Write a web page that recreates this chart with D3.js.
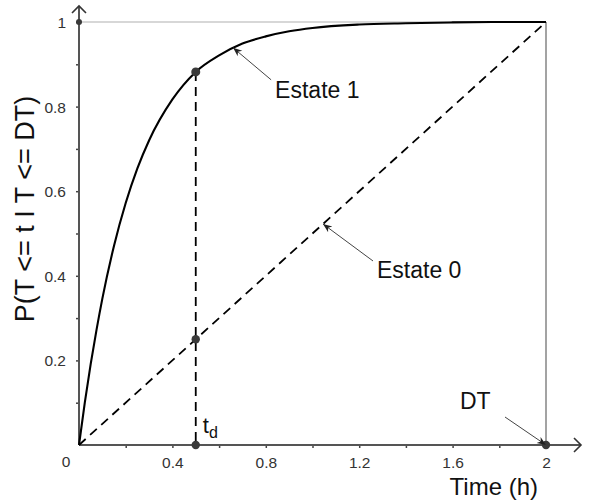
<!DOCTYPE html>
<html>
<head>
<meta charset="utf-8">
<script src="https://cdn.jsdelivr.net/npm/d3@7"></script>
<style>
  html, body { margin: 0; padding: 0; background: #fff; }
  svg { display: block; font-family: "Liberation Sans", Arial, sans-serif; }
</style>
</head>
<body>
<svg id="chart" width="589" height="504"></svg>
<script>
// Time axis (hours) and cumulative probability readings
const timeH = [0, 0.025, 0.05, 0.075, 0.1, 0.15, 0.2, 0.25, 0.3, 0.4, 0.5, 0.6, 0.7, 0.8, 0.9, 1.0, 1.2, 1.4, 1.6, 1.8, 2.0];
const estate1 = [0, 0.101, 0.191, 0.272, 0.346, 0.471, 0.572, 0.654, 0.72, 0.817, 0.882, 0.921, 0.949, 0.966, 0.978, 0.986, 0.994, 0.997, 0.999, 1.0, 1.0];
const estate0Time = [0, 2];
const estate0 = [0, 1];

// Marked points
const td = 0.5;
const tdEstate1 = 0.882;
const tdEstate0 = 0.25;
const DT = 2;

// Ticks
const xMinorTicks = [0.2, 0.4, 0.6, 0.8, 1.0, 1.2, 1.4, 1.6, 1.8, 2.0];
const xTickLabels = [0.4, 0.8, 1.2, 1.6, 2];
const yMinorTicks = [0.1, 0.2, 0.3, 0.4, 0.5, 0.6, 0.7, 0.8, 0.9, 1.0];
const yTickLabels = [0.2, 0.4, 0.6, 0.8, 1];

const svg = d3.select("#chart");
const x = d3.scaleLinear().domain([0, 2]).range([79, 546]);
const y = d3.scaleLinear().domain([0, 1]).range([445, 22]);

const ink = "#000";
const axisCol = "#555";

// Frame lines at P = 1 and t = DT
svg.append("line")
  .attr("x1", x(0)).attr("x2", x(DT)).attr("y1", y(1)).attr("y2", y(1))
  .attr("stroke", "#b0b0b0").attr("stroke-width", 1.2);
svg.append("line")
  .attr("x1", x(DT)).attr("x2", x(DT)).attr("y1", y(1)).attr("y2", y(0))
  .attr("stroke", "#666").attr("stroke-width", 1.2);

// Axes (ticks via d3 axis generators)
const fmt = d => xTickLabels.includes(+d.toFixed(1)) ? d3.format("~g")(d) : "";
const gx = svg.append("g").attr("transform", `translate(0,${y(0)})`)
  .call(d3.axisBottom(x).tickValues(xMinorTicks).tickSize(3).tickPadding(8).tickFormat(fmt));
const gy = svg.append("g").attr("transform", `translate(${x(0)},0)`)
  .call(d3.axisLeft(y).tickValues(yMinorTicks).tickSize(3).tickPadding(10)
    .tickFormat(d => yTickLabels.includes(+d.toFixed(1)) ? d3.format("~g")(d) : ""));
[gx, gy].forEach(g => {
  g.select(".domain").remove();
  g.selectAll(".tick line").attr("stroke", "#444").attr("stroke-width", 1.5);
  g.selectAll(".tick text").attr("fill", "#333").attr("font-size", 15.5)
    .attr("font-family", "Liberation Sans, Arial, sans-serif");
});
gy.selectAll(".tick text").attr("dy", "0.36em");
gx.selectAll(".tick text").attr("dy", "0.8em");

// Origin label
svg.append("text").attr("x", x(0) - 13).attr("y", y(0) + 22)
  .attr("text-anchor", "middle").attr("font-size", 15.5).attr("fill", "#333").text("0");

// Axis lines with open arrowheads
svg.append("line").attr("x1", x(0)).attr("x2", 581).attr("y1", y(0)).attr("y2", y(0))
  .attr("stroke", axisCol).attr("stroke-width", 2);
svg.append("path").attr("d", `M${574},${y(0) - 7} L${581},${y(0)} L${574},${y(0) + 7}`)
  .attr("fill", "none").attr("stroke", "#333").attr("stroke-width", 1.6);
svg.append("line").attr("x1", x(0)).attr("x2", x(0)).attr("y1", y(0)).attr("y2", 6)
  .attr("stroke", axisCol).attr("stroke-width", 2);
svg.append("path").attr("d", `M${x(0) - 7},${13} L${x(0)},${6} L${x(0) + 7},${13}`)
  .attr("fill", "none").attr("stroke", "#333").attr("stroke-width", 1.6);

// Estate 0: uniform CDF (dashed diagonal)
svg.append("path")
  .datum(estate0Time.map((t, i) => [t, estate0[i]]))
  .attr("d", d3.line().x(d => x(d[0])).y(d => y(d[1])))
  .attr("fill", "none").attr("stroke", ink).attr("stroke-width", 1.8)
  .attr("stroke-dasharray", "9,6");

// Estate 1: conditional CDF curve
svg.append("path")
  .datum(timeH.map((t, i) => [t, estate1[i]]))
  .attr("d", d3.line().curve(d3.curveMonotoneX).x(d => x(d[0])).y(d => y(d[1])))
  .attr("fill", "none").attr("stroke", ink).attr("stroke-width", 2.1);

// Vertical dashed line at t_d
svg.append("line")
  .attr("x1", x(td)).attr("x2", x(td)).attr("y1", y(tdEstate1)).attr("y2", y(0))
  .attr("stroke", ink).attr("stroke-width", 1.8).attr("stroke-dasharray", "9,6");

// Points
const pts = [
  { t: td, p: tdEstate1, r: 4.5 },
  { t: td, p: tdEstate0, r: 4.2 },
  { t: td, p: 0, r: 4.2 },
  { t: DT, p: 0, r: 4.2 },
  { t: 0, p: 1, r: 3 }
];
svg.selectAll("circle.pt").data(pts).enter().append("circle")
  .attr("class", "pt")
  .attr("cx", d => x(d.t)).attr("cy", d => y(d.p)).attr("r", d => d.r)
  .attr("fill", "#3a3a3a");

// Annotations: arrow tip in data coordinates, label tail offset in pixels
svg.append("defs").append("marker")
  .attr("id", "ah").attr("viewBox", "0 0 10 10").attr("refX", 10).attr("refY", 5)
  .attr("markerWidth", 9).attr("markerHeight", 9).attr("orient", "auto")
  .attr("markerUnits", "userSpaceOnUse")
  .append("path").attr("d", "M0,1 L10,5 L0,9 L3,5 Z").attr("fill", "#222");

const notes = [
  { text: "Estate 1", t: 0.66, p: 0.939, dx: 38, dy: 32, lx: 42, ly: 50 },
  { text: "Estate 0", t: 1.045, p: 0.5225, dx: 50, dy: 37, lx: 54, ly: 54 },
  { text: "DT", t: DT, p: 0, dx: -41, dy: -28, lx: -86, ly: -36 }
];
notes.forEach(n => {
  const tx = x(n.t), ty = y(n.p);
  svg.append("line")
    .attr("x1", tx + n.dx).attr("y1", ty + n.dy).attr("x2", tx).attr("y2", ty)
    .attr("stroke", "#444").attr("stroke-width", 1).attr("marker-end", "url(#ah)");
  svg.append("text").attr("x", tx + n.lx).attr("y", ty + n.ly)
    .attr("font-size", 23).attr("fill", "#111").text(n.text);
});

// t_d label
const tdLabel = svg.append("text").attr("x", x(td) + 7).attr("y", y(0) - 12)
  .attr("font-size", 22).attr("fill", "#111");
tdLabel.append("tspan").text("t");
tdLabel.append("tspan").attr("font-size", 16).attr("dy", 5).text("d");

// Axis titles
svg.append("text").attr("x", 538).attr("y", 495).attr("text-anchor", "end")
  .attr("font-size", 24).attr("fill", "#111").text("Time (h)");
svg.append("text")
  .attr("transform", `translate(34,209) rotate(-90)`)
  .attr("text-anchor", "middle").attr("font-size", 27).attr("fill", "#111")
  .text("P(T <= t I T <= DT)");
</script>
</body>
</html>
